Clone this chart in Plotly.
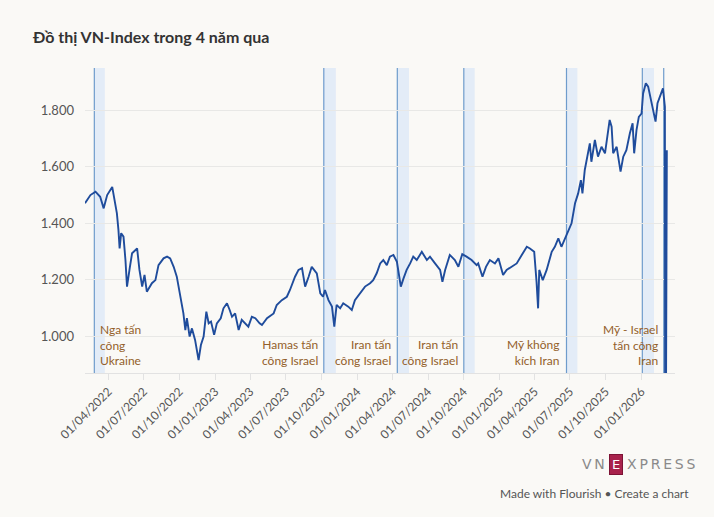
import plotly.graph_objects as go

# ---- Data ----
dates = [
    "2022-01-31", "2022-02-14", "2022-02-27", "2022-03-11", "2022-03-20", "2022-03-29",
    "2022-04-11", "2022-04-19", "2022-04-23", "2022-04-27", "2022-04-30", "2022-05-04",
    "2022-05-10", "2022-05-15", "2022-05-19", "2022-05-26", "2022-06-01", "2022-06-14",
    "2022-06-20", "2022-06-27", "2022-07-03", "2022-07-09", "2022-07-22", "2022-07-31",
    "2022-08-08", "2022-08-21", "2022-08-30", "2022-09-07", "2022-09-16", "2022-09-24",
    "2022-10-03", "2022-10-11", "2022-10-16", "2022-10-20", "2022-10-27", "2022-11-02",
    "2022-11-10", "2022-11-19", "2022-11-25", "2022-12-02", "2022-12-09", "2022-12-15",
    "2022-12-21", "2022-12-29", "2023-01-05", "2023-01-15", "2023-01-22", "2023-01-31",
    "2023-02-07", "2023-02-13", "2023-02-21", "2023-03-02", "2023-03-10", "2023-03-19",
    "2023-03-27", "2023-04-05", "2023-04-14", "2023-04-25", "2023-05-01", "2023-05-14",
    "2023-05-31", "2023-06-08", "2023-06-21", "2023-07-04", "2023-07-12", "2023-07-25",
    "2023-08-03", "2023-08-12", "2023-08-20", "2023-08-29", "2023-09-06", "2023-09-19",
    "2023-09-28", "2023-10-05", "2023-10-10", "2023-10-19", "2023-10-28", "2023-11-03",
    "2023-11-09", "2023-11-18", "2023-11-26", "2023-12-09", "2023-12-18", "2023-12-26",
    "2024-01-08", "2024-01-21", "2024-02-03", "2024-02-11", "2024-02-20", "2024-02-29",
    "2024-03-08", "2024-03-17", "2024-03-25", "2024-04-03", "2024-04-12", "2024-04-16",
    "2024-04-22", "2024-04-29", "2024-05-07", "2024-05-16", "2024-05-24", "2024-06-02",
    "2024-06-15", "2024-06-28", "2024-07-06", "2024-07-19", "2024-08-01", "2024-08-07",
    "2024-08-14", "2024-08-26", "2024-09-08", "2024-09-17", "2024-09-27", "2024-10-08",
    "2024-10-21", "2024-11-03", "2024-11-07", "2024-11-18", "2024-11-27", "2024-12-07",
    "2024-12-20", "2024-12-29", "2025-01-10", "2025-01-19", "2025-02-01", "2025-02-14",
    "2025-02-27", "2025-03-12", "2025-03-20", "2025-03-31", "2025-04-06", "2025-04-10",
    "2025-04-13", "2025-04-22", "2025-05-02", "2025-05-15", "2025-05-23", "2025-06-01",
    "2025-06-09", "2025-06-22", "2025-07-05", "2025-07-14", "2025-07-22", "2025-07-29",
    "2025-08-02", "2025-08-08", "2025-08-14", "2025-08-21", "2025-08-25", "2025-09-03",
    "2025-09-11", "2025-09-20", "2025-09-29", "2025-10-11", "2025-10-16", "2025-10-20",
    "2025-10-29", "2025-11-02", "2025-11-08", "2025-11-15", "2025-11-23", "2025-12-02",
    "2025-12-09", "2025-12-13", "2025-12-19", "2025-12-25", "2026-01-01", "2026-01-05",
    "2026-01-12", "2026-01-18", "2026-01-27", "2026-01-31", "2026-02-06", "2026-02-11",
    "2026-02-19", "2026-02-25", "2026-03-02", "2026-03-03", "2026-03-07",
]
vnindex = [
    1470, 1499, 1511, 1493, 1452, 1499,
    1528, 1470, 1434, 1375, 1310, 1364,
    1352, 1269, 1175, 1240, 1293, 1310,
    1234, 1175, 1216, 1157, 1187, 1198,
    1251, 1275, 1281, 1275, 1245, 1210,
    1139, 1080, 1021, 1063, 998, 1027,
    986, 915, 968, 998, 1086, 1045,
    1051, 1004, 1045, 1063, 1098, 1116,
    1092, 1068, 1080, 1021, 1057, 1045,
    1033, 1068, 1063, 1045, 1039, 1063,
    1080, 1110, 1127, 1139, 1163, 1210,
    1234, 1240, 1175, 1210, 1245, 1222,
    1151, 1139, 1163, 1127, 1104, 1033,
    1110, 1098, 1116, 1104, 1092, 1127,
    1151, 1175, 1187, 1198, 1222, 1257,
    1269, 1251, 1281, 1287, 1263, 1222,
    1175, 1204, 1234, 1257, 1281, 1269,
    1298, 1269, 1281, 1257, 1234, 1192,
    1234, 1287, 1269, 1245, 1290, 1281,
    1269, 1251, 1257, 1210, 1245, 1269,
    1257, 1275, 1216, 1234, 1245, 1257,
    1287, 1316, 1310, 1298, 1192, 1098,
    1234, 1198, 1234, 1298, 1316, 1346,
    1316, 1357, 1399, 1470, 1505, 1552,
    1505, 1588, 1635, 1682, 1617, 1694,
    1635, 1670, 1647, 1765, 1741, 1647,
    1670, 1635, 1582, 1635, 1658, 1718,
    1753, 1647, 1729, 1776, 1788, 1859,
    1895, 1883, 1824, 1806, 1759, 1824,
    1853, 1877, 1812, 0, 1658,
]

band_starts = ["2022-02-24", "2023-10-07", "2024-04-13", "2024-10-01", "2025-06-22", "2026-01-03"]
band_ends = ["2022-03-23", "2023-11-07", "2024-05-13", "2024-10-29", "2025-07-20", "2026-02-02"]
event_lines = ["2022-02-24", "2023-10-07", "2024-04-13", "2024-10-01", "2025-06-22", "2026-01-03", "2026-02-27"]

label_dates = ["2022-02-24", "2023-10-07", "2024-04-13", "2024-10-01", "2025-06-22", "2026-02-27"]
label_texts = [
    "Nga tấn<br>công<br>Ukraine",
    "Hamas tấn<br>công Israel",
    "Iran tấn<br>công Israel",
    "Iran tấn<br>công Israel",
    "Mỹ không<br>kích Iran",
    "Mỹ - Israel<br>tấn công<br>Iran",
]
label_sides = ["left", "right", "right", "right", "right", "right"]

tick_dates = ["2022-04-01", "2022-07-01", "2022-10-01", "2023-01-01", "2023-04-01",
              "2023-07-01", "2023-10-01", "2024-01-01", "2024-04-01", "2024-07-01",
              "2024-10-01", "2025-01-01", "2025-04-01", "2025-07-01", "2025-10-01",
              "2026-01-01"]
y_ticks = [1000, 1200, 1400, 1600, 1800]

BG = "#faf9f6"
FONT = "Lato"

# plot-area geometry in pixels (for placing footer items in paper coords)
L, R, T, B = 85, 675, 68, 373


def px(x):
    return (x - L) / (R - L)


def py(y):
    return (B - y) / (B - T)


fig = go.Figure()
fig.add_trace(go.Scatter(
    x=dates, y=vnindex, mode="lines",
    line=dict(color="#1f4c9c", width=1.9),
    hoverinfo="x+y", showlegend=False,
))

shapes = []
for s, e in zip(band_starts, band_ends):
    shapes.append(dict(type="rect", xref="x", yref="paper", x0=s, x1=e, y0=0, y1=1,
                       fillcolor="#e3ecf7", line=dict(width=0), layer="below"))
for d in event_lines:
    shapes.append(dict(type="line", xref="x", yref="paper", x0=d, x1=d, y0=0, y1=1,
                       line=dict(color="#6f9ccc", width=1.2), layer="below"))

annotations = []
for d, t, side in zip(label_dates, label_texts, label_sides):
    left = side == "left"
    annotations.append(dict(x=d, y=0, xref="x", yref="paper", text=t, showarrow=False,
                            xanchor="left" if left else "right", yanchor="bottom",
                            align="left" if left else "right",
                            xshift=4 if left else -4, yshift=3,
                            font=dict(family=FONT, size=12, color="#93602a")))

# VnExpress logo
annotations.append(dict(x=px(607), y=py(464), xref="paper", yref="paper",
                        text="V\u2009N", showarrow=False, xanchor="right", yanchor="middle",
                        font=dict(family="DejaVu Sans", size=14, color="#8a8a8a")))
annotations.append(dict(x=px(615.5), y=py(464), xref="paper", yref="paper",
                        text="E", showarrow=False, xanchor="center", yanchor="middle",
                        bgcolor="#a8224c", bordercolor="#7d1335", borderwidth=1, borderpad=2,
                        font=dict(family="DejaVu Sans", size=13, color="#ffffff")))
annotations.append(dict(x=px(625), y=py(464), xref="paper", yref="paper",
                        text="X\u2009P\u2009R\u2009E\u2009S\u2009S", showarrow=False,
                        xanchor="left", yanchor="middle",
                        font=dict(family="DejaVu Sans", size=14, color="#8a8a8a")))
annotations.append(dict(x=px(498), y=py(493), xref="paper", yref="paper",
                        text="Made with Flourish • Create a chart", showarrow=False,
                        xanchor="left", yanchor="middle",
                        font=dict(family=FONT, size=12, color="#555555")))

fig.update_layout(
    width=714, height=517,
    paper_bgcolor=BG, plot_bgcolor=BG,
    margin=dict(l=L, r=714 - R, t=T, b=517 - B, autoexpand=False),
    separators=",.",
    title=dict(text="<b>Đồ thị VN-Index trong 4 năm qua</b>", x=33 / 714, xanchor="left",
               xref="container", y=1 - 37 / 517, yanchor="middle", yref="container",
               font=dict(family=FONT, size=16, color="#333333")),
    shapes=shapes,
    annotations=annotations,
    xaxis=dict(type="date", range=["2022-01-31", "2026-03-28"], tickvals=tick_dates,
               tickformat="%d/%m/%Y", tickangle=-45, showgrid=False, zeroline=False,
               ticks="outside", ticklen=6, tickcolor="#e2e2e2", showline=True,
               linecolor="#e2e2e2", linewidth=1,
               tickfont=dict(family=FONT, size=12, color="#555555")),
    yaxis=dict(range=[869, 1949], tickvals=y_ticks, tickformat=",d", showgrid=True,
               gridcolor="#e8e8e6", zeroline=False, ticks="", ticklabelstandoff=10,
               tickfont=dict(family=FONT, size=13, color="#555555")),
    showlegend=False,
    hovermode="closest",
)

fig.write_html("out.html")
